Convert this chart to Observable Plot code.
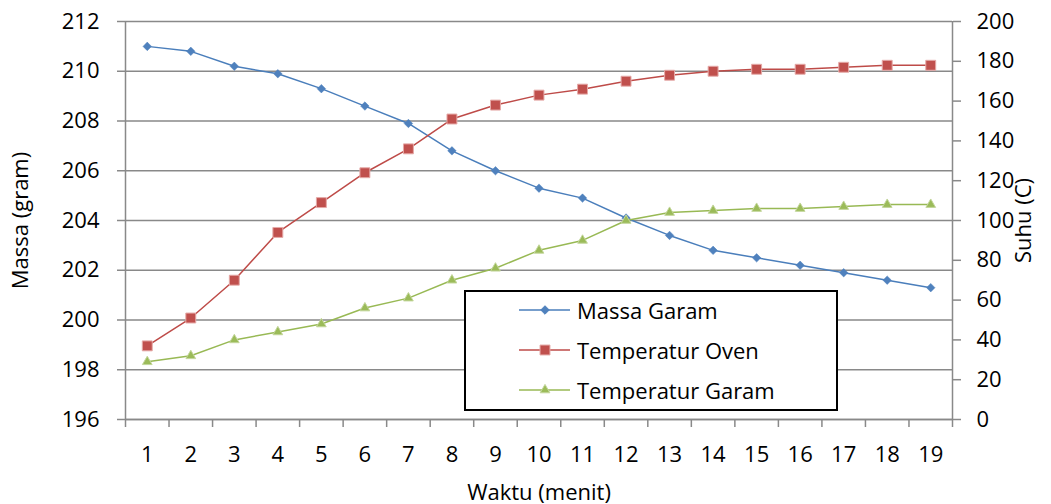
<!DOCTYPE html>
<html><head><meta charset="utf-8">
<script src="https://cdn.jsdelivr.net/npm/d3@7"></script>
<script src="https://cdn.jsdelivr.net/npm/@observablehq/plot@0.6"></script>
<style>
body{margin:0;background:#fff;}
#wrap{position:relative;width:1051px;height:504px;font-family:"Open Sans",sans-serif;}
#wrap > svg{position:absolute;left:0;top:0;}
#legend{position:absolute;box-sizing:border-box;background:#fff;border:2px solid #000;}
#legend .row{position:absolute;left:0;height:40px;display:flex;align-items:center;}
#legend .row span{font-size:22px;color:#000;white-space:nowrap;line-height:1;}
</style></head><body><div id="wrap"></div>
<script>
// ---- data ----
const waktu = [1,2,3,4,5,6,7,8,9,10,11,12,13,14,15,16,17,18,19];
const massaGaram = [211.0,210.8,210.2,209.9,209.3,208.6,207.9,206.8,206.0,205.3,204.9,204.1,203.4,202.8,202.5,202.2,201.9,201.6,201.3];
const temperaturOven = [37,51,70,94,109,124,136,151,158,163,166,170,173,175,176,176,177,178,178];
const temperaturGaram = [29,32,40,44,48,56,61,70,76,85,90,100,104,105,106,106,107,108,108];
const massaTicks = [196,198,200,202,204,206,208,210,212];
const suhuTicks = [0,20,40,60,80,100,120,140,160,180,200];
const seriesNames = ["Massa Garam","Temperatur Oven","Temperatur Garam"];
const seriesLine = ["#4A7EBB","#BE4B48","#98B954"];
const seriesFill = ["#4F81BD","#C0504D","#9BBB59"];

// ---- derived tables ----
const massaRows = waktu.map((w,i)=>({waktu:w, nilai:massaGaram[i]}));
const ovenRows = waktu.map((w,i)=>({waktu:w, nilai:temperaturOven[i]}));
const garamRows = waktu.map((w,i)=>({waktu:w, nilai:temperaturGaram[i]}));
const bounds = [waktu[0]-0.5, ...waktu.map(w=>w+0.5)];
const xDomain = [bounds[0], bounds[bounds.length-1]];

const diamond = {draw(ctx, size){const r=Math.sqrt(size/2);ctx.moveTo(0,-r);ctx.lineTo(r,0);ctx.lineTo(0,r);ctx.lineTo(-r,0);ctx.closePath();}};
const symbols = [diamond, "square", "triangle"];
const radii = [3.4, 5.6, 3.6];

const gray = "#898989";
const font = "'Open Sans', sans-serif";
const common = {
  width:1051, height:504, marginTop:21, marginBottom:85, marginLeft:125, marginRight:99,
  style:{fontFamily:font, fontSize:"22px", color:"#000", background:"transparent", overflow:"visible"}
};

const p1 = Plot.plot({
  ...common,
  x:{type:"linear", domain:xDomain},
  y:{domain:[massaTicks[0], massaTicks[massaTicks.length-1]]},
  marks:[
    Plot.gridY(massaTicks, {stroke:gray, strokeOpacity:1, strokeWidth:1.5}),
    Plot.axisY({ticks:massaTicks, tickSize:8, tickPadding:18, stroke:gray, strokeWidth:1.5, fill:"#000",
      label:"Massa (gram)", labelAnchor:"center", labelOffset:113, labelArrow:"none"}),
    Plot.axisX({ticks:waktu, tickSize:0, tickPadding:27, fill:"#000", tickFormat:d=>String(d),
      label:"Waktu (menit)", labelAnchor:"center", labelOffset:80, labelArrow:"none"}),
    Plot.axisX({ticks:bounds, tickSize:8, stroke:gray, strokeWidth:1.5, tickFormat:()=>"", label:null}),
    Plot.ruleX([xDomain[0]], {stroke:gray, strokeWidth:1.5}),
    Plot.ruleY([massaTicks[0]], {stroke:gray, strokeWidth:1.5}),
    Plot.line(massaRows, {x:"waktu", y:"nilai", stroke:seriesLine[0], strokeWidth:1.5}),
    Plot.dot(massaRows, {x:"waktu", y:"nilai", symbol:symbols[0], r:radii[0], fill:seriesFill[0], stroke:seriesFill[0], strokeWidth:0.5})
  ]
});

const p2 = Plot.plot({
  ...common,
  x:{type:"linear", domain:xDomain, axis:null},
  y:{domain:[suhuTicks[0], suhuTicks[suhuTicks.length-1]]},
  marks:[
    Plot.ruleX([xDomain[1]], {stroke:gray, strokeWidth:1.5}),
    Plot.axisY({anchor:"right", ticks:suhuTicks, tickSize:8, tickPadding:16, stroke:gray, strokeWidth:1.5, fill:"#000",
      label:"Suhu (C)", labelAnchor:"center", labelOffset:78, labelArrow:"none"}),
    Plot.line(ovenRows, {x:"waktu", y:"nilai", stroke:seriesLine[1], strokeWidth:1.5}),
    Plot.dot(ovenRows, {x:"waktu", y:"nilai", symbol:symbols[1], r:radii[1], fill:seriesFill[1], stroke:"#E5A9A7", strokeWidth:1}),
    Plot.line(garamRows, {x:"waktu", y:"nilai", stroke:seriesLine[2], strokeWidth:1.5}),
    Plot.dot(garamRows, {x:"waktu", y:"nilai", symbol:symbols[2], r:radii[2], fill:seriesFill[2], stroke:"#C3D69B", strokeWidth:1})
  ]
});

const wrap = document.getElementById("wrap");
wrap.appendChild(p1);
wrap.appendChild(p2);

// ---- legend ----
const lg = d3.select(wrap).append("div").attr("id","legend")
  .style("left","464px").style("top","290px").style("width","374px").style("height","121px");
seriesNames.forEach((name,i)=>{
  const row = lg.append("div").attr("class","row").style("top", (i*40-2)+"px");
  const sw = row.append("svg").attr("width",111).attr("height",40).style("display","block");
  sw.append("line").attr("x1",53).attr("x2",104).attr("y1",20).attr("y2",20)
    .attr("stroke",seriesLine[i]).attr("stroke-width",1.5);
  const sym = i===0 ? d3.symbol().type({draw:diamond.draw}).size(Math.PI*radii[0]*radii[0])
            : i===1 ? d3.symbol().type(d3.symbolSquare).size(Math.PI*radii[1]*radii[1])
            : d3.symbol().type(d3.symbolTriangle).size(Math.PI*radii[2]*radii[2]);
  sw.append("path").attr("d", sym()).attr("transform","translate(79,20)")
    .attr("fill",seriesFill[i]).attr("stroke", i===0?seriesFill[0]: i===1?"#E5A9A7":"#C3D69B");
  row.append("span").text(name);
});
</script>
</body></html>
